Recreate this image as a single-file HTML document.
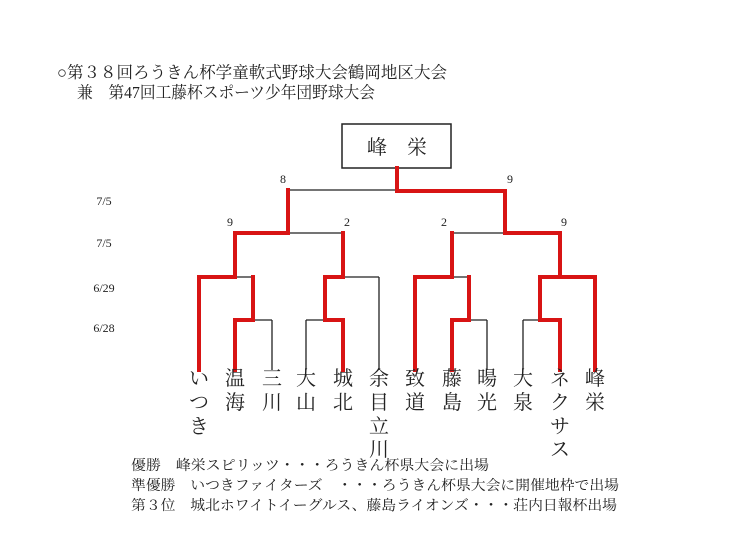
<!DOCTYPE html>
<html><head><meta charset="utf-8"><style>
html,body{margin:0;padding:0;background:#fff;}
svg text{font-family:"Liberation Serif","Noto Serif CJK SC",serif;fill:#222;}
</style></head><body>
<svg width="736" height="540" viewBox="0 0 736 540" xmlns="http://www.w3.org/2000/svg">
<text x="57" y="78" font-size="16.5" textLength="390" lengthAdjust="spacingAndGlyphs">○第３８回ろうきん杯学童軟式野球大会鶴岡地区大会</text>
<text x="77" y="98" font-size="16.5" textLength="298" lengthAdjust="spacingAndGlyphs">兼　第47回工藤杯スポーツ少年団野球大会</text>
<rect x="342" y="124" width="109" height="44" fill="none" stroke="#222" stroke-width="1.5"/>
<text x="397" y="154" font-size="20" text-anchor="middle">峰　栄</text>
<g font-size="12" text-anchor="middle">
<text x="104" y="205">7/5</text><text x="104" y="247">7/5</text>
<text x="104" y="292">6/29</text><text x="104" y="332">6/28</text>
<text x="283" y="183">8</text><text x="510" y="183">9</text>
<text x="230" y="226">9</text><text x="347" y="226">2</text>
<text x="444" y="226">2</text><text x="564" y="226">9</text>
</g>
<g stroke="#222" stroke-width="1.3" fill="none">
<path d="M288 190H397 M288 233H343 M452 233H505 M235 277H253 M343 277H379 M452 277H469 M540 277H560 M253 320H272 M306 320H325 M469 320H487 M523 320H540"/>
<path d="M272 320V370 M306 320V370 M379 277V370 M487 320V370 M523 320V370"/>
</g>
<g stroke="#d81414" stroke-width="4" fill="none" stroke-linejoin="miter" stroke-linecap="square">
<path d="M397 168V191H505V233"/>
<path d="M288 190V233H235V277H199V370"/>
<path d="M505 233H560V277H595V370"/>
<path d="M343 233V277H325V320H343V370"/>
<path d="M452 233V277H415V370"/>
<path d="M235 370V320H253V277"/>
<path d="M452 370V320H469V277"/>
<path d="M560 370V320H540V277H560"/>
</g>
<g font-size="20" text-anchor="middle">
<text x="199" y="385">い</text><text x="199" y="409">つ</text><text x="199" y="433">き</text>
<text x="235" y="385">温</text><text x="235" y="409">海</text>
<text x="272" y="385">三</text><text x="272" y="409">川</text>
<text x="306" y="385">大</text><text x="306" y="409">山</text>
<text x="343" y="385">城</text><text x="343" y="409">北</text>
<text x="379" y="385">余</text><text x="379" y="409">目</text><text x="379" y="433">立</text><text x="379" y="456">川</text>
<text x="415" y="385">致</text><text x="415" y="409">道</text>
<text x="452" y="385">藤</text><text x="452" y="409">島</text>
<text x="487" y="385">暘</text><text x="487" y="409">光</text>
<text x="523" y="385">大</text><text x="523" y="409">泉</text>
<text x="560" y="385">ネ</text><text x="560" y="409">ク</text><text x="560" y="433">サ</text><text x="560" y="456">ス</text>
<text x="595" y="385">峰</text><text x="595" y="409">栄</text>
</g>
<g font-size="14">
<text x="131" y="470" textLength="358" lengthAdjust="spacingAndGlyphs">優勝　峰栄スピリッツ・・・ろうきん杯県大会に出場</text>
<text x="131" y="490" textLength="488" lengthAdjust="spacingAndGlyphs">準優勝　いつきファイターズ　・・・ろうきん杯県大会に開催地枠で出場</text>
<text x="131" y="510" textLength="486" lengthAdjust="spacingAndGlyphs">第３位　城北ホワイトイーグルス、藤島ライオンズ・・・荘内日報杯出場</text>
</g>
</svg>
</body></html>
